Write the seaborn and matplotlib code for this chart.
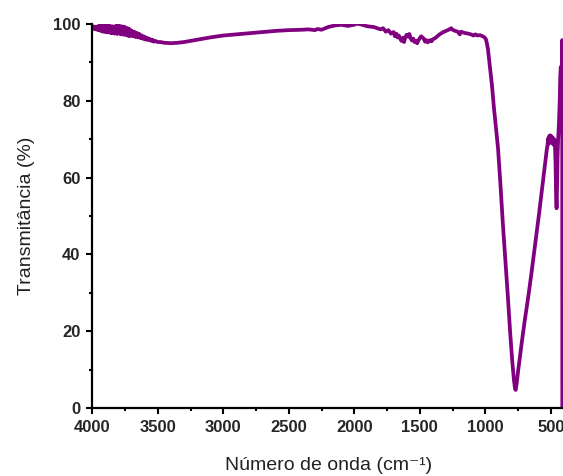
import matplotlib
matplotlib.use("Agg")
import matplotlib.pyplot as plt
from matplotlib.ticker import MultipleLocator
import seaborn as sns
import pandas as pd

wavenumber = [
    4000, 3995, 3990, 3985, 3980, 3975, 3970, 3965, 3960, 3955, 3950, 3945, 3940, 3935,
    3930, 3925, 3920, 3915, 3910, 3905, 3900, 3895, 3890, 3885, 3880, 3875, 3870, 3865,
    3860, 3855, 3850, 3845, 3840, 3835, 3830, 3825, 3820, 3815, 3810, 3805, 3800, 3795,
    3790, 3785, 3780, 3775, 3770, 3765, 3760, 3755, 3750, 3745, 3740, 3735, 3730, 3725,
    3720, 3715, 3710, 3700, 3690, 3680, 3670, 3660, 3650, 3640, 3630, 3620, 3610, 3600,
    3590, 3580, 3570, 3560, 3550, 3540, 3530, 3520, 3500, 3480, 3450, 3400, 3350, 3300,
    3250, 3200, 3100, 3000, 2900, 2800, 2700, 2600, 2500, 2400, 2350, 2300, 2280, 2250,
    2200, 2150, 2100, 2050, 2000, 1980, 1950, 1900, 1850, 1800, 1780, 1760, 1740, 1720,
    1700, 1690, 1680, 1670, 1660, 1650, 1640, 1630, 1620, 1610, 1600, 1590, 1580, 1570,
    1560, 1550, 1540, 1530, 1520, 1510, 1500, 1490, 1480, 1470, 1460, 1450, 1440, 1430,
    1420, 1410, 1400, 1380, 1360, 1340, 1320, 1300, 1280, 1260, 1250, 1230, 1210, 1195,
    1185, 1170, 1150, 1130, 1110, 1090, 1075, 1060, 1040, 1020, 1005, 995, 988, 980,
    972, 962, 949, 935, 920, 903, 885, 865, 845, 827, 810, 795, 782, 773, 768, 760,
    750, 735, 720, 700, 674, 650, 620, 590, 560, 540, 531, 525, 520, 516, 512, 508,
    504, 500, 496, 492, 488, 484, 480, 476, 472, 468, 464, 460, 456, 452, 448, 444,
    438, 432, 428, 424, 420, 416, 413, 412,
]

transmittance = [
    99.0, 99.4, 98.8, 99.3, 98.7, 99.2, 98.6, 99.3, 98.5, 99.4, 98.4, 99.5, 98.3, 99.6,
    98.2, 99.5, 98.0, 99.6, 98.1, 99.7, 97.9, 99.5, 98.0, 99.6, 97.8, 99.4, 97.9, 99.5,
    97.7, 99.3, 97.6, 99.4, 97.8, 99.2, 97.5, 99.4, 97.7, 99.5, 97.4, 99.3, 97.6, 99.6,
    97.5, 99.2, 97.3, 99.4, 97.4, 99.1, 97.2, 99.3, 97.3, 99.0, 97.1, 98.9, 97.0, 98.8,
    96.9, 98.6, 96.9, 98.3, 96.8, 98.0, 96.6, 97.7, 96.5, 97.4, 96.3, 97.0, 96.1, 96.7,
    95.9, 96.4, 95.8, 96.1, 95.6, 95.9, 95.4, 95.6, 95.3, 95.3, 95.1, 95.0, 95.1, 95.3,
    95.6, 95.9, 96.5, 97.0, 97.3, 97.6, 97.9, 98.2, 98.4, 98.5, 98.6, 98.4, 98.7, 98.5,
    99.2, 99.6, 99.8, 99.5, 99.8, 100.1, 99.9, 99.4, 99.2, 98.6, 98.9, 98.0, 98.4, 97.5,
    97.9, 96.8, 97.5, 96.5, 97.0, 96.2, 95.6, 96.4, 95.3, 96.6, 97.2, 96.7, 97.4, 96.3,
    95.7, 96.2, 95.3, 95.6, 95.0, 95.8, 96.3, 96.8, 96.5, 96.2, 95.4, 95.8, 95.2, 95.6,
    95.8, 95.5, 96.0, 96.4, 97.0, 97.5, 97.9, 98.2, 98.5, 98.9, 98.5, 98.2, 98.0, 97.3,
    98.0, 97.8, 97.6, 97.5, 97.3, 97.0, 97.3, 97.0, 97.1, 96.8, 96.5, 96.0, 95.0, 93.5,
    91.0, 88.0, 84.0, 78.5, 73.5, 67.7, 58.5, 47.5, 37.5, 28.6, 19.5, 12.5, 7.5, 5.0,
    4.7, 6.5, 9.5, 13.5, 17.5, 22.5, 28.5, 34.5, 42.5, 50.5, 59.0, 64.5, 67.2, 68.5,
    70.2, 68.8, 70.8, 69.2, 71.0, 69.4, 70.8, 69.0, 70.5, 68.8, 70.2, 68.5, 69.8, 68.0,
    64.0, 56.0, 52.0, 58.0, 66.0, 70.0, 74.0, 80.0, 86.0, 88.8, 88.5, 89.0, 95.8, 0.0,
]

x_ticks = [4000, 3500, 3000, 2500, 2000, 1500, 1000, 500]
y_ticks = [0, 20, 40, 60, 80, 100]

sns.set_style("ticks")
plt.rcParams["font.family"] = ["Liberation Sans", "DejaVu Sans"]

df = pd.DataFrame({"wn": wavenumber, "T": transmittance})

fig = plt.figure(figsize=(5.63, 4.76), dpi=100)
ax = fig.add_axes([0.1639, 0.1429, 0.8377, 0.8067])

sns.lineplot(data=df, x="wn", y="T", sort=False, estimator=None,
             color="#800080", linewidth=2.7, ax=ax)

ax.set_xlim(4000, 400)
ax.set_ylim(0, 100)
ax.set_xticks(x_ticks)
ax.set_yticks(y_ticks)
ax.xaxis.set_minor_locator(MultipleLocator(250))
ax.yaxis.set_minor_locator(MultipleLocator(10))

for s in ["top", "right"]:
    ax.spines[s].set_visible(False)
for s in ["left", "bottom"]:
    ax.spines[s].set_linewidth(1.6)
    ax.spines[s].set_color("black")

ax.tick_params(axis="both", which="major", direction="out", length=4.5, width=1.5,
               labelsize=12, pad=4, color="black")
ax.tick_params(axis="both", which="minor", direction="out", length=2.5, width=1.5,
               color="black")
for lab in ax.get_xticklabels() + ax.get_yticklabels():
    lab.set_fontweight("bold")

ax.set_xlabel("Número de onda (cm\u207b\u00b9)", fontsize=14, color="#222222", labelpad=16)
ax.set_ylabel("Transmitância (%)", fontsize=14, color="#222222", labelpad=13)

fig.savefig("out.png", dpi=100)
